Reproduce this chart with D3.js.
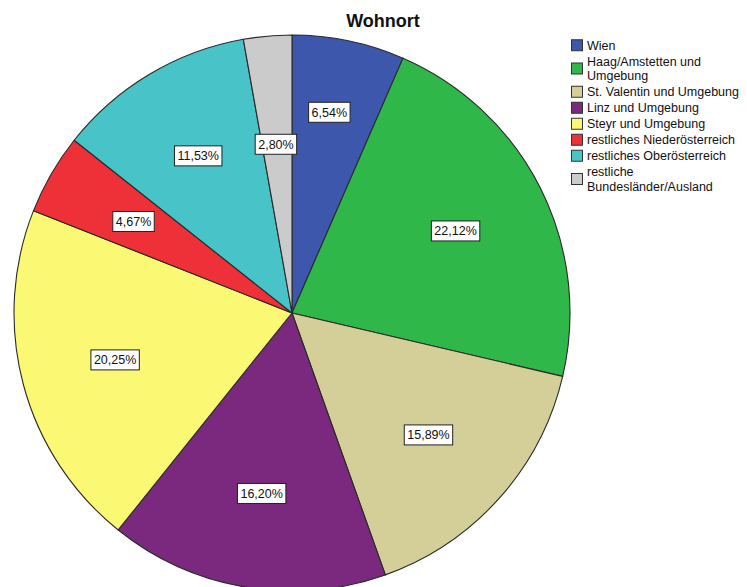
<!DOCTYPE html>
<html>
<head>
<meta charset="utf-8">
<script src="https://cdn.jsdelivr.net/npm/d3@7"></script>
<style>
  html, body { margin: 0; padding: 0; background: #fff; }
  svg { display: block; }
  text { font-family: "Liberation Sans", Arial, sans-serif; }
</style>
</head>
<body>
<svg id="chart" width="747" height="587"></svg>
<script>
// Wohnort – share of respondents by place of residence (percent)
const categories = [
  "Wien",
  "Haag/Amstetten und Umgebung",
  "St. Valentin und Umgebung",
  "Linz und Umgebung",
  "Steyr und Umgebung",
  "restliches Niederösterreich",
  "restliches Oberösterreich",
  "restliche Bundesländer/Ausland"
];
const values = [6.54, 22.12, 15.89, 16.20, 20.25, 4.67, 11.53, 2.80];
// legend text, broken where the legend wraps
const legendLines = [
  ["Wien"],
  ["Haag/Amstetten und", "Umgebung"],
  ["St. Valentin und Umgebung"],
  ["Linz und Umgebung"],
  ["Steyr und Umgebung"],
  ["restliches Niederösterreich"],
  ["restliches Oberösterreich"],
  ["restliche", "Bundesländer/Ausland"]
];
const colors = ["#3d57ad", "#2fb849", "#d4cf98", "#7a297e", "#fbf874", "#ee3039", "#48c3c8", "#cbcbcb"];

const svg = d3.select("#chart");
const cx = 292, cy = 313, radius = 278, labelRadius = 183;

const color = d3.scaleOrdinal().domain(categories).range(colors);

const data = categories.map((c, i) => ({ name: c, value: values[i] }));
const pie = d3.pie().value(d => d.value).sort(null);
const arcs = pie(data);

const arc = d3.arc().innerRadius(0).outerRadius(radius);
const labelArc = d3.arc().innerRadius(labelRadius).outerRadius(labelRadius);

const g = svg.append("g").attr("transform", `translate(${cx},${cy})`);

g.selectAll("path.slice")
  .data(arcs)
  .join("path")
  .attr("class", "slice")
  .attr("d", arc)
  .attr("fill", d => color(d.data.name))
  .attr("stroke", "#2a2a2a")
  .attr("stroke-width", 1.1)
  .attr("stroke-linejoin", "round");

// value labels in boxed white tags
const fmt = v => v.toFixed(2).replace(".", ",") + "%";
const boxH = 20;
const labels = g.selectAll("g.lbl")
  .data(arcs)
  .join("g")
  .attr("class", "lbl");

const boxes = [];
labels.each(function(d) {
  const sel = d3.select(this);
  const t = sel.append("text")
    .attr("text-anchor", "middle")
    .attr("dy", "0.36em")
    .attr("font-size", 12.5)
    .attr("fill", "#111")
    .text(fmt(d.data.value));
  const w = t.node().getComputedTextLength() + 6;
  sel.insert("rect", "text")
    .attr("x", -w / 2).attr("y", -boxH / 2)
    .attr("width", w).attr("height", boxH)
    .attr("fill", "#fff")
    .attr("stroke", "#222")
    .attr("stroke-width", 1);
  const [x, y] = labelArc.centroid(d);
  boxes.push({ sel, x, y, w });
});

// keep crowded tags apart: stagger them vertically (earlier slice moves up)
const clearance = 16;
for (let i = 0; i < boxes.length; i++) {
  for (let j = i + 1; j < boxes.length; j++) {
    const a = boxes[i], b = boxes[j];
    const nearX = Math.abs(a.x - b.x) < (a.w + b.w) / 2 + clearance;
    const nearY = Math.abs(a.y - b.y) < boxH;
    if (nearX && nearY) {
      const mid = (a.y + b.y) / 2, gap = boxH + 12;
      a.y = mid - gap / 2 - 4;
      b.y = mid + gap / 2 - 4;
    }
  }
}
boxes.forEach(b => b.sel.attr("transform", `translate(${b.x},${b.y})`));

// title
svg.append("text")
  .attr("x", 383).attr("y", 27)
  .attr("text-anchor", "middle")
  .attr("font-size", 18)
  .attr("font-weight", "bold")
  .attr("fill", "#111")
  .text("Wohnort");

// legend
const legend = svg.append("g").attr("transform", "translate(571,38)");
let y = 0;
const lineH = 14.5, itemGap = 1.5;
legendLines.forEach((lines, i) => {
  const h = lines.length * lineH;
  const item = legend.append("g").attr("transform", `translate(0,${y})`);
  item.append("rect")
    .attr("x", 0.5).attr("y", h / 2 - 5.5)
    .attr("width", 11).attr("height", 11)
    .attr("fill", colors[i])
    .attr("stroke", "#333")
    .attr("stroke-width", 1);
  lines.forEach((ln, j) => {
    item.append("text")
      .attr("x", 16)
      .attr("y", j * lineH + 11.5)
      .attr("font-size", 12.5)
      .attr("fill", "#111")
      .text(ln);
  });
  y += h + itemGap;
});
</script>
</body>
</html>
